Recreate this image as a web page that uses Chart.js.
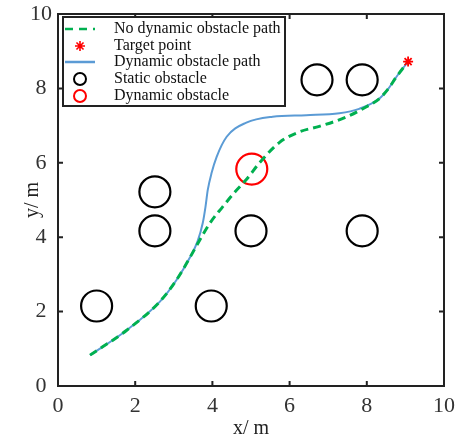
<!DOCTYPE html>
<html>
<head>
<meta charset="utf-8">
<script src="https://cdn.jsdelivr.net/npm/chart.js@4"></script>
<style>
  html, body { margin: 0; padding: 0; background: #fff; }
  #wrap { width: 457px; height: 434px; }
</style>
</head>
<body>
<div id="wrap"><canvas id="chart" width="457" height="434"></canvas></div>
<script>
// values (metres)
const axisTicks = [0, 2, 4, 6, 8, 10];

const noDynX = [0.83, 1.78, 2.64, 3.07, 3.41, 3.67, 3.95, 4.26, 4.57, 4.88, 5.22, 5.74, 6.25, 6.77, 7.47, 7.98, 8.32, 8.55, 8.76, 9.07];
const noDynY = [0.83, 1.50, 2.27, 2.85, 3.44, 3.92, 4.40, 4.81, 5.20, 5.55, 6.00, 6.55, 6.83, 6.98, 7.23, 7.50, 7.72, 7.98, 8.30, 8.72];

const dynX = [0.83, 1.78, 2.64, 3.07, 3.41, 3.62, 3.75, 3.82, 3.88, 3.98, 4.11, 4.37, 4.88, 5.56, 6.43, 7.29, 7.80, 8.32, 8.55, 8.76, 9.07];
const dynY = [0.83, 1.50, 2.27, 2.85, 3.44, 3.90, 4.38, 4.81, 5.27, 5.73, 6.16, 6.70, 7.08, 7.24, 7.28, 7.33, 7.45, 7.72, 7.98, 8.30, 8.72];

const targetX = [9.07];
const targetY = [8.72];

const staticX = [1.0, 3.97, 2.51, 2.51, 5.0, 7.88, 6.71, 7.88];
const staticY = [2.15, 2.15, 4.17, 5.22, 4.17, 4.17, 8.23, 8.23];

const dynObsX = [5.02];
const dynObsY = [5.83];

const legendLabels = ['No dynamic obstacle path', 'Target point', 'Dynamic obstacle path', 'Static obstacle', 'Dynamic obstacle'];

const GREEN = '#00b050';
const BLUE = '#5b9bd5';
const RED = '#ff0000';
const INK = '#222';
const SERIF = '"Liberation Serif", "DejaVu Serif", serif';

const pts = (xs, ys) => xs.map((x, i) => ({ x: x, y: ys[i] }));

// box + inward ticks on all four sides
const framePlugin = {
  id: 'frame',
  afterDatasetsDraw(chart) {
    const { ctx, chartArea: a, scales } = chart;
    ctx.save();
    ctx.strokeStyle = INK;
    ctx.lineWidth = 2;
    ctx.strokeRect(a.left, a.top, a.right - a.left, a.bottom - a.top);
    const tl = 5;
    ctx.beginPath();
    axisTicks.forEach(v => {
      const px = scales.x.getPixelForValue(v);
      ctx.moveTo(px, a.bottom); ctx.lineTo(px, a.bottom - tl);
      ctx.moveTo(px, a.top); ctx.lineTo(px, a.top + tl);
      const py = scales.y.getPixelForValue(v);
      ctx.moveTo(a.left, py); ctx.lineTo(a.left + tl, py);
      ctx.moveTo(a.right, py); ctx.lineTo(a.right - tl, py);
    });
    ctx.stroke();
    ctx.restore();
  }
};

// matlab-like legend box in the upper left corner
const legendPlugin = {
  id: 'boxLegend',
  afterDraw(chart) {
    const { ctx, chartArea: a } = chart;
    const bx = a.left + 5, by = a.top + 3, bw = 222, bh = 89;
    ctx.save();
    ctx.fillStyle = '#fff';
    ctx.fillRect(bx, by, bw, bh);
    ctx.strokeStyle = INK;
    ctx.lineWidth = 2;
    ctx.strokeRect(bx, by, bw, bh);

    const sx = bx + 17, tx = bx + 51;
    const rows = [by + 12, by + 29, by + 45, by + 62, by + 79];

    // green dashed
    ctx.strokeStyle = GREEN; ctx.lineWidth = 2.5; ctx.setLineDash([8, 6]);
    ctx.beginPath(); ctx.moveTo(sx - 15, rows[0]); ctx.lineTo(sx + 15, rows[0]); ctx.stroke();
    ctx.setLineDash([]);
    // red star
    ctx.strokeStyle = RED; ctx.lineWidth = 1.6;
    ctx.beginPath();
    for (let k = 0; k < 4; k++) {
      const ang = k * Math.PI / 4;
      ctx.moveTo(sx - 5 * Math.cos(ang), rows[1] - 5 * Math.sin(ang));
      ctx.lineTo(sx + 5 * Math.cos(ang), rows[1] + 5 * Math.sin(ang));
    }
    ctx.stroke();
    // blue solid
    ctx.strokeStyle = BLUE; ctx.lineWidth = 2.5;
    ctx.beginPath(); ctx.moveTo(sx - 15, rows[2]); ctx.lineTo(sx + 15, rows[2]); ctx.stroke();
    // circles
    ctx.lineWidth = 2;
    ctx.strokeStyle = '#000';
    ctx.beginPath(); ctx.arc(sx, rows[3], 6, 0, Math.PI * 2); ctx.stroke();
    ctx.strokeStyle = RED;
    ctx.beginPath(); ctx.arc(sx, rows[4], 6, 0, Math.PI * 2); ctx.stroke();

    ctx.fillStyle = '#111';
    ctx.font = '16px ' + SERIF;
    ctx.textBaseline = 'middle';
    ctx.textAlign = 'left';
    legendLabels.forEach((t, i) => ctx.fillText(t, tx, rows[i]));
    ctx.restore();
  }
};

new Chart(document.getElementById('chart'), {
  type: 'scatter',
  data: {
    datasets: [
      {
        label: legendLabels[1],
        data: pts(targetX, targetY),
        pointStyle: 'star',
        pointRadius: 5,
        borderColor: RED,
        borderWidth: 1.8,
        backgroundColor: RED
      },
      {
        label: legendLabels[0],
        data: pts(noDynX, noDynY),
        showLine: true,
        borderColor: GREEN,
        borderWidth: 3,
        borderDash: [8, 5],
        pointRadius: 0,
        cubicInterpolationMode: 'monotone',
        fill: false
      },
      {
        label: legendLabels[2],
        data: pts(dynX, dynY),
        showLine: true,
        borderColor: BLUE,
        borderWidth: 2,
        pointRadius: 0,
        cubicInterpolationMode: 'monotone',
        fill: false
      },
      {
        label: legendLabels[4],
        data: pts(dynObsX, dynObsY),
        pointStyle: 'circle',
        pointRadius: 15.5,
        borderColor: RED,
        borderWidth: 2.2,
        backgroundColor: 'rgba(0,0,0,0)'
      },
      {
        label: legendLabels[3],
        data: pts(staticX, staticY),
        pointStyle: 'circle',
        pointRadius: 15.5,
        borderColor: '#000',
        borderWidth: 2.2,
        backgroundColor: 'rgba(0,0,0,0)'
      }
    ]
  },
  options: {
    responsive: false,
    animation: false,
    layout: { autoPadding: false, padding: { top: 14, right: 13, left: 0, bottom: 0 } },
    plugins: {
      legend: { display: false },
      tooltip: { enabled: false }
    },
    scales: {
      x: {
        type: 'linear',
        min: 0, max: 10,
        afterBuildTicks: s => { s.ticks = axisTicks.map(v => ({ value: v })); },
        afterFit: s => { s.height = 48; s.paddingLeft = 0; s.paddingRight = 0; },
        grid: { display: false, drawTicks: false },
        border: { display: false },
        ticks: { color: '#333', font: { family: SERIF, size: 22 }, padding: 7, maxRotation: 0 },
        title: {
          display: true, text: 'x/ m', color: '#222',
          font: { family: SERIF, size: 20, lineHeight: 1 },
          padding: { top: 0, bottom: -5 }
        }
      },
      y: {
        type: 'linear',
        min: 0, max: 10,
        afterBuildTicks: s => { s.ticks = axisTicks.map(v => ({ value: v })); },
        afterFit: s => { s.width = 58; s.paddingTop = 0; s.paddingBottom = 0; },
        grid: { display: false, drawTicks: false },
        border: { display: false },
        ticks: { color: '#333', font: { family: SERIF, size: 22 }, padding: 6, crossAlign: 'center' },
        title: {
          display: true, text: 'y/ m', color: '#222',
          font: { family: SERIF, size: 20, lineHeight: 1 },
          padding: { top: 23, bottom: 0 }
        }
      }
    }
  },
  plugins: [framePlugin, legendPlugin]
});
</script>
</body>
</html>
